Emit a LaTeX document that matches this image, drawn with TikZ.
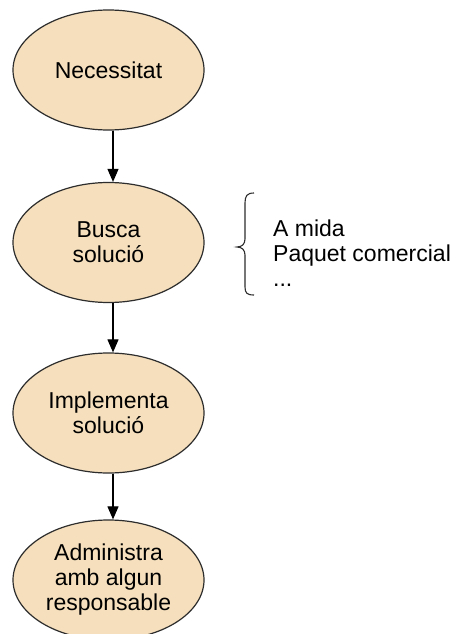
\documentclass[tikz,border=0pt]{standalone}
\usepackage{fontspec}
\setmainfont{Liberation Sans}
\usetikzlibrary{shapes.geometric,arrows.meta}
\definecolor{peach}{RGB}{245,223,188}
\definecolor{edge}{RGB}{45,45,45}
\tikzset{
  proc/.style={ellipse, draw=edge, fill=peach, line width=1.2pt,
    minimum width=191pt, minimum height=120pt, inner sep=0pt,
    align=center, font=\fontsize{23}{25}\selectfont},
  arr/.style={line width=1.1pt, draw=black, -{Triangle[length=13pt,width=11pt]}},
  note/.style={align=left, inner sep=0pt, anchor=west, font=\fontsize{23}{25}\selectfont},
  bracestyle/.style={line width=1.1pt, draw=edge}
}
\begin{document}
\begin{tikzpicture}[x=1pt,y=-1pt]
\useasboundingbox (0,0) rectangle (461,634);
\clip (0,0) rectangle (461,634);
\fill[white] (0,0) rectangle (461,634);
\node[proc] (n1) at (108.5,70) {Necessitat};
\node[proc] (n2) at (108.5,242.5) {Busca\\soluci\'o};
\node[proc] (n3) at (108.5,413) {Implementa\\soluci\'o};
\node[proc] (n4) at (108.5,580) {Administra\\amb algun\\responsable};
\draw[arr] ([xshift=4.5pt]n1.south) -- ([xshift=4.5pt]n2.north);
\draw[arr] ([xshift=4.5pt]n2.south) -- ([xshift=4.5pt]n3.north);
\draw[arr] ([xshift=4.5pt]n3.south) -- ([xshift=4.5pt]n4.north);
\draw[bracestyle] (254,193) .. controls (247,193) and (245,196) .. (245,203)
  -- (245,239) .. controls (245,244) and (242,247) .. (237,247)
  .. controls (242,247) and (245,250) .. (245,255)
  -- (245,287) .. controls (245,293) and (247,295) .. (254,295);
\node[note] (opts) at (273,253.6) {A mida\\Paquet comercial\\...};
\end{tikzpicture}
\end{document}
